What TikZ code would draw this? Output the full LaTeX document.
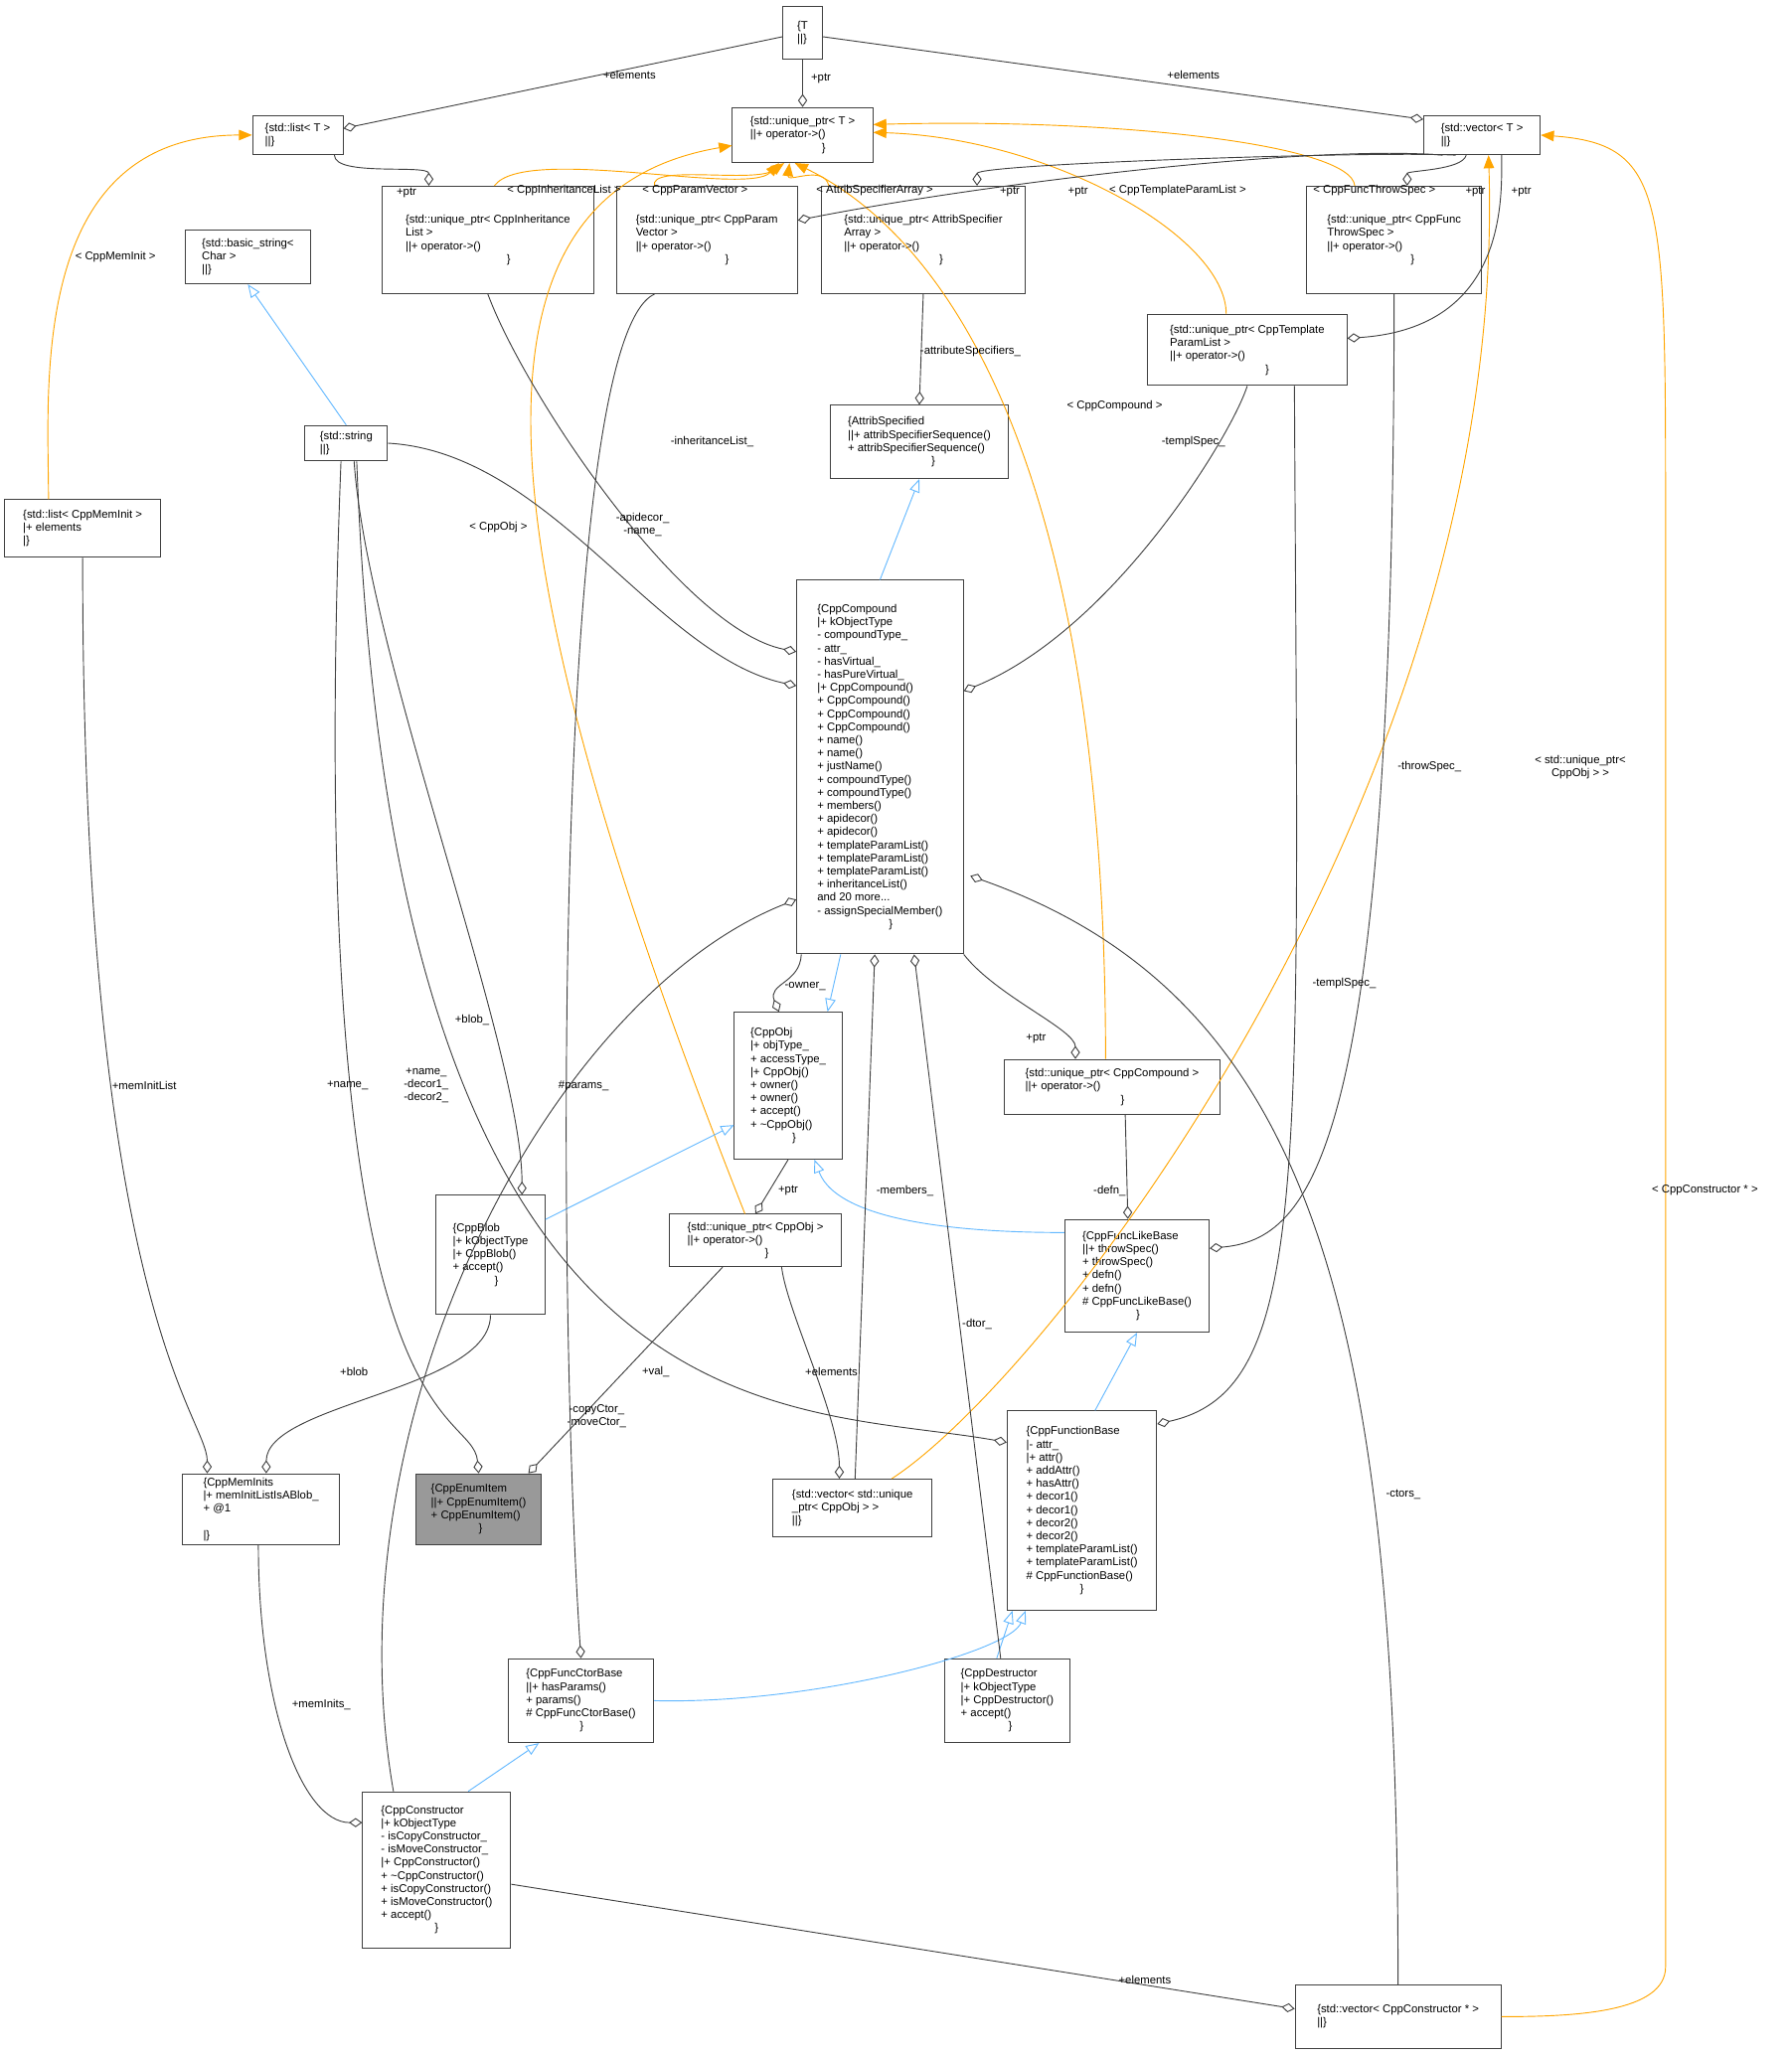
\documentclass[tikz,border=0pt]{standalone}
\usepackage{fontspec}
\setmainfont{Liberation Sans}
\usetikzlibrary{positioning,arrows.meta,calc}
\definecolor{edgegray}{HTML}{404040}
\definecolor{inhblue}{HTML}{63B8FF}
\definecolor{tplorange}{HTML}{FFA500}
\tikzset{
	rec/.style={draw=edgegray, fill=white, align=left, inner sep=2pt, line width=0.7pt, font=\fontsize{8.6}{10}\selectfont},
	lbl/.style={font=\fontsize{8.6}{10}\selectfont, align=center, inner sep=1pt},
	agg/.style={draw=edgegray, line width=0.7pt, {Diamond[open,length=10pt,width=7pt]}-},
	inh/.style={draw=inhblue, line width=0.7pt, {Triangle[open,length=10pt,width=8pt]}-},
	tmpl/.style={draw=tplorange, line width=0.7pt, {Triangle[length=10pt,width=8pt]}-}
}
\begin{document}
\begin{tikzpicture}[x=1pt,y=-1pt]
	\useasboundingbox (0,0) rectangle (1366,1568);
	% records
	\node[rec, minimum width=30, minimum height=40] (t) at (612,25) {\{T\\\textbar\textbar\}};
	\node[rec, minimum width=107, minimum height=42] (uT) at (612,103) {\{std::unique\_ptr< T >\\\textbar\textbar+ operator->()\\\hspace*{12ex}\}};
	\node[rec, minimum width=69, minimum height=30] (lT) at (227,103) {\{std::list< T >\\\textbar\textbar\}};
	\node[rec, minimum width=89, minimum height=30] (vT) at (1130,103) {\{std::vector< T >\\\textbar\textbar\}};
	\node[rec, minimum width=96, minimum height=41] (bstr) at (189,196) {\{std::basic\_string<\\Char >\\\textbar\textbar\}};
	\node[rec, minimum width=162, minimum height=82] (uInh) at (372,183) {\{std::unique\_ptr< CppInheritance\\List >\\\textbar\textbar+ operator->()\\\hspace*{17ex}\}};
	\node[rec, minimum width=138, minimum height=82] (uPar) at (539,183) {\{std::unique\_ptr< CppParam\\Vector >\\\textbar\textbar+ operator->()\\\hspace*{15ex}\}};
	\node[rec, minimum width=155, minimum height=82] (uAtt) at (704,183) {\{std::unique\_ptr< AttribSpecifier\\Array >\\\textbar\textbar+ operator->()\\\hspace*{16ex}\}};
	\node[rec, minimum width=133, minimum height=82] (uThr) at (1063,183) {\{std::unique\_ptr< CppFunc\\ThrowSpec >\\\textbar\textbar+ operator->()\\\hspace*{14ex}\}};
	\node[rec, minimum width=152, minimum height=54] (uTpl) at (951,267) {\{std::unique\_ptr< CppTemplate\\ParamList >\\\textbar\textbar+ operator->()\\\hspace*{16ex}\}};
	\node[rec, minimum width=136, minimum height=56] (attS) at (701,337) {\{AttribSpecified\\\textbar\textbar+ attribSpecifierSequence()\\+ attribSpecifierSequence()\\\hspace*{14ex}\}};
	\node[rec, minimum width=63, minimum height=27] (str) at (264,338) {\{std::string\\\textbar\textbar\}};
	\node[rec, minimum width=119, minimum height=44] (lMI) at (63,403) {\{std::list< CppMemInit >\\\textbar+ elements\\\textbar\}};
	\node[rec, minimum width=127, minimum height=285] (cmp) at (671,585) {\{CppCompound\\\textbar+ kObjectType\\- compoundType\_\\- attr\_\\- hasVirtual\_\\- hasPureVirtual\_\\\textbar+ CppCompound()\\+ CppCompound()\\+ CppCompound()\\+ CppCompound()\\+ name()\\+ name()\\+ justName()\\+ compoundType()\\+ compoundType()\\+ members()\\+ apidecor()\\+ apidecor()\\+ templateParamList()\\+ templateParamList()\\+ templateParamList()\\+ inheritanceList()\\and 20 more...\\- assignSpecialMember()\\\hspace*{12ex}\}};
	\node[rec, minimum width=82, minimum height=112] (obj) at (601,828) {\{CppObj\\\textbar+ objType\_\\+ accessType\_\\\textbar+ CppObj()\\+ owner()\\+ owner()\\+ accept()\\+ \textasciitilde CppObj()\\\hspace*{7ex}\}};
	\node[rec, minimum width=164, minimum height=42] (uCmp) at (848,829) {\{std::unique\_ptr< CppCompound >\\\textbar\textbar+ operator->()\\\hspace*{16ex}\}};
	\node[rec, minimum width=83, minimum height=91] (blob) at (374,957) {\{CppBlob\\\textbar+ kObjectType\\\textbar+ CppBlob()\\+ accept()\\\hspace*{7ex}\}};
	\node[rec, minimum width=131, minimum height=40] (uObj) at (576,946) {\{std::unique\_ptr< CppObj >\\\textbar\textbar+ operator->()\\\hspace*{13ex}\}};
	\node[rec, minimum width=110, minimum height=86] (fLike) at (867,973) {\{CppFuncLikeBase\\\textbar\textbar+ throwSpec()\\+ throwSpec()\\+ defn()\\+ defn()\\\# CppFuncLikeBase()\\\hspace*{9ex}\}};
	\node[rec, minimum width=114, minimum height=152] (fBase) at (825,1152) {\{CppFunctionBase\\\textbar- attr\_\\\textbar+ attr()\\+ addAttr()\\+ hasAttr()\\+ decor1()\\+ decor1()\\+ decor2()\\+ decor2()\\+ templateParamList()\\+ templateParamList()\\\# CppFunctionBase()\\\hspace*{9ex}\}};
	\node[rec, fill=gray!80, minimum width=95, minimum height=54] (enum) at (365,1151) {\{CppEnumItem\\\textbar\textbar+ CppEnumItem()\\+ CppEnumItem()\\\hspace*{8ex}\}};
	\node[rec, minimum width=121, minimum height=44] (vUObj) at (650,1150) {\{std::vector< std::unique\\\_ptr< CppObj > >\\\textbar\textbar\}};
	\node[rec, minimum width=120, minimum height=54] (mInit) at (199,1151) {\{CppMemInits\\\textbar+ memInitListIsABlob\_\\+ @1\\\\\textbar\}};
	\node[rec, minimum width=111, minimum height=64] (fCtor) at (443,1297) {\{CppFuncCtorBase\\\textbar\textbar+ hasParams()\\+ params()\\\# CppFuncCtorBase()\\\hspace*{9ex}\}};
	\node[rec, minimum width=95, minimum height=64] (dtor) at (768,1297) {\{CppDestructor\\\textbar+ kObjectType\\\textbar+ CppDestructor()\\+ accept()\\\hspace*{8ex}\}};
	\node[rec, minimum width=113, minimum height=119] (ctor) at (333,1426) {\{CppConstructor\\\textbar+ kObjectType\\- isCopyConstructor\_\\- isMoveConstructor\_\\\textbar+ CppConstructor()\\+ \textasciitilde CppConstructor()\\+ isCopyConstructor()\\+ isMoveConstructor()\\+ accept()\\\hspace*{9ex}\}};
	\node[rec, minimum width=157, minimum height=48] (vCtor) at (1066,1538) {\{std::vector< CppConstructor * >\\\textbar\textbar\}};
	% template instances
	\draw[tmpl] ($(uT.south)+(-18,0)$) .. controls (570,150) and (400,110) .. ($(uInh.north)+(5,0)$);
	\draw[tmpl] ($(uT.south)+(-14,0)$) .. controls (575,140) and (495,125) .. ($(uPar.north)+(-40,0)$);
	\draw[tmpl] ($(uT.south)+(-10,0)$) .. controls (600,140) and (628,125) .. ($(uAtt.north)+(-72,0)$);
	\draw[tmpl] ($(uT.east)+(0,-2)$) .. controls (800,105) and (935,180) .. ($(uTpl.north)+(-16,0)$);
	\draw[tmpl] ($(uT.east)+(0,-8)$) .. controls (850,90) and (1030,110) .. ($(uThr.north)+(-30,0)$);
	\draw[tmpl] ($(uT.south)+(-6,0)$) .. controls (720,180) and (843,350) .. ($(uCmp.north)+(-5,0)$);
	\draw[tmpl] ($(uT.west)+(0,8)$) .. controls (330,150) and (380,450) .. ($(uObj.north)+(-8,0)$);
	\draw[tmpl] (lT.west) .. controls (20,103) and (37,300) .. ($(lMI.north)+(-26,0)$);
	\draw[tmpl] ($(vT.south)+(5,0)$) .. controls (1150,600) and (800,1050) .. ($(vUObj.north)+(30,0)$);
	\draw[tmpl] (vT.east) .. controls (1270,110) and (1270,150) .. (1270,400) -- (1270,1500) .. controls (1270,1535) and (1200,1538) .. (vCtor.east);
	% inheritance
	\draw[inh] (bstr.south) -- (str.north);
	\draw[inh] (attS.south) -- (cmp.north);
	\draw[inh] ($(obj.north)+(30,0)$) -- ($(cmp.south)+(-30,0)$);
	\draw[inh] ($(obj.west)+(0,30)$) -- ($(blob.east)+(0,-27)$);
	\draw[inh] ($(obj.south)+(20,0)$) .. controls (640,935) and (750,940) .. ($(fLike.west)+(0,-33)$);
	\draw[inh] (fLike.south) -- ($(fBase.north)+(10,0)$);
	\draw[inh] ($(fBase.south)+(-43,0)$) .. controls (770,1260) and (620,1300) .. (fCtor.east);
	\draw[inh] ($(fBase.south)+(-53,0)$) -- ($(dtor.north)+(-8,0)$);
	\draw[inh] ($(fCtor.south)+(-32,0)$) -- ($(ctor.north)+(24,0)$);
	% members
	\draw[agg] ($(lT.east)+(0,-5)$) -- ($(t.west)+(0,3)$);
	\draw[agg] (uT.north) -- (t.south);
	\draw[agg] ($(vT.west)+(0,-12)$) -- ($(t.east)+(0,3)$);
	\draw[agg] ($(uInh.north)+(-45,0)$) .. controls (327,125) and (255,135) .. ($(lT.south)+(28,0)$);
	\draw[agg] ($(uPar.east)+(0,-15)$) .. controls (750,140) and (1000,110) .. ($(vT.south)+(-30,0)$);
	\draw[agg] ($(uAtt.north)+(41,0)$) .. controls (745,125) and (1050,115) .. ($(vT.south)+(-20,0)$);
	\draw[agg] ($(uThr.north)+(10,0)$) .. controls (1073,130) and (1115,130) .. ($(vT.south)+(-12,0)$);
	\draw[agg] ($(uTpl.east)+(0,-9)$) .. controls (1150,250) and (1145,150) .. ($(vT.south)+(15,0)$);
	\draw[agg] ($(cmp.west)+(0,-88)$) .. controls (520,480) and (400,300) .. (uInh.south);
	\draw[agg] (attS.north) -- (uAtt.south);
	\draw[agg] ($(cmp.east)+(0,-58)$) .. controls (850,480) and (940,330) .. (uTpl.south);
	\draw[agg] ($(cmp.west)+(0,-62)$) .. controls (500,500) and (420,345) .. (str.east);
	\draw[agg] (fCtor.north) .. controls (425,1000) and (420,260) .. ($(uPar.south)+(-40,0)$);
	\draw[agg] ($(fLike.east)+(0,-21)$) .. controls (1000,945) and (1063,880) .. (uThr.south);
	\draw[agg] ($(fBase.east)+(0,-66)$) .. controls (1000,1060) and (990,900) .. ($(uTpl.south)+(36,0)$);
	\draw[agg] ($(obj.north)+(-7,0)$) .. controls (585,750) and (610,750) .. ($(cmp.south)+(-60,0)$);
	\draw[agg] ($(uCmp.north)+(-28,0)$) .. controls (820,785) and (760,760) .. (cmp.south east);
	\draw[agg] ($(fLike.north)+(-7,0)$) -- ($(uCmp.south)+(10,0)$);
	\draw[agg] (uObj.north) -- (obj.south);
	\draw[agg] ($(vUObj.north)+(-10,0)$) .. controls (640,1080) and (600,1000) .. ($(uObj.south)+(20,0)$);
	\draw[agg] ($(cmp.south)+(-4,0)$) -- ($(vUObj.north)+(2,0)$);
	\draw[agg] ($(cmp.south)+(26,0)$) -- ($(dtor.north)+(-5,0)$);
	\draw[agg] ($(cmp.east)+(5,83)$) .. controls (1000,760) and (1066,1000) .. (vCtor.north);
	\draw[agg] ($(cmp.west)+(0,101)$) .. controls (420,760) and (250,1080) .. ($(ctor.north)+(-33,0)$);
	\draw[agg] ($(blob.north)+(24,0)$) .. controls (398,800) and (280,500) .. ($(str.south)+(6,0)$);
	\draw[agg] (enum.north) .. controls (360,1070) and (230,1110) .. ($(str.south)+(-4,0)$);
	\draw[agg] ($(fBase.west)+(0,-52)$) .. controls (600,1070) and (300,1110) .. ($(str.south)+(8,0)$);
	\draw[agg] ($(enum.north east)+(-10,0)$) -- ($(uObj.south)+(-25,0)$);
	\draw[agg] ($(mInit.north)+(4,0)$) .. controls (203,1070) and (374,1060) .. (blob.south);
	\draw[agg] ($(mInit.north)+(-41,0)$) .. controls (158,1080) and (63,1000) .. (lMI.south);
	\draw[agg] ($(ctor.west)+(0,-36)$) .. controls (230,1390) and (197,1300) .. ($(mInit.south)+(-2,0)$);
	\draw[agg] ($(vCtor.west)+(0,-6)$) -- ($(ctor.east)+(0,11)$);
	% labels
	\node[lbl] (l1) at (480,57) {+elements};
	\node[lbl] (l2) at (626,60) {+ptr};
	\node[lbl] (l3) at (910,57) {+elements};
	\node[lbl] (l4) at (310,147) {+ptr};
	\node[lbl] (l5) at (770,146) {+ptr};
	\node[lbl] (l6) at (822,146) {+ptr};
	\node[lbl] (l7) at (1125,146) {+ptr};
	\node[lbl] (l8) at (1160,146) {+ptr};
	\node[lbl] (l9) at (430,145) {< CppInheritanceList >};
	\node[lbl] (l10) at (530,145) {< CppParamVector >};
	\node[lbl] (l11) at (667,145) {< AttribSpecifierArray >};
	\node[lbl] (l12) at (898,145) {< CppTemplateParamList >};
	\node[lbl] (l13) at (1048,145) {< CppFuncThrowSpec >};
	\node[lbl] (l14) at (850,310) {< CppCompound >};
	\node[lbl] (l15) at (380,402) {< CppObj >};
	\node[lbl] (l16) at (88,196) {< CppMemInit >};
	\node[lbl] (l17) at (1205,585) {< std::unique\_ptr<\\CppObj > >};
	\node[lbl] (l18) at (1300,908) {< CppConstructor * >};
	\node[lbl] (l19) at (543,337) {-inheritanceList\_};
	\node[lbl] (l20) at (740,268) {-attributeSpecifiers\_};
	\node[lbl] (l21) at (910,337) {-templSpec\_};
	\node[lbl] (l22) at (490,400) {-apidecor\_\\-name\_};
	\node[lbl] (l23) at (445,828) {\#params\_};
	\node[lbl] (l24) at (1090,585) {-throwSpec\_};
	\node[lbl] (l25) at (1025,750) {-templSpec\_};
	\node[lbl] (l26) at (614,752) {-owner\_};
	\node[lbl] (l27) at (790,792) {+ptr};
	\node[lbl] (l28) at (846,908) {-defn\_};
	\node[lbl] (l29) at (601,908) {+ptr};
	\node[lbl] (l30) at (634,1046) {+elements};
	\node[lbl] (l31) at (690,908) {-members\_};
	\node[lbl] (l32) at (745,1010) {-dtor\_};
	\node[lbl] (l33) at (1070,1140) {-ctors\_};
	\node[lbl] (l34) at (455,1080) {-copyCtor\_\\-moveCtor\_};
	\node[lbl] (l35) at (360,778) {+blob\_};
	\node[lbl] (l36) at (265,828) {+name\_};
	\node[lbl] (l37) at (325,828) {+name\_\\-decor1\_\\-decor2\_};
	\node[lbl] (l38) at (500,1046) {+val\_};
	\node[lbl] (l39) at (270,1046) {+blob};
	\node[lbl] (l40) at (110,828) {+memInitList};
	\node[lbl] (l41) at (245,1300) {+memInits\_};
	\node[lbl] (l42) at (873,1510) {+elements};
\end{tikzpicture}
\end{document}
